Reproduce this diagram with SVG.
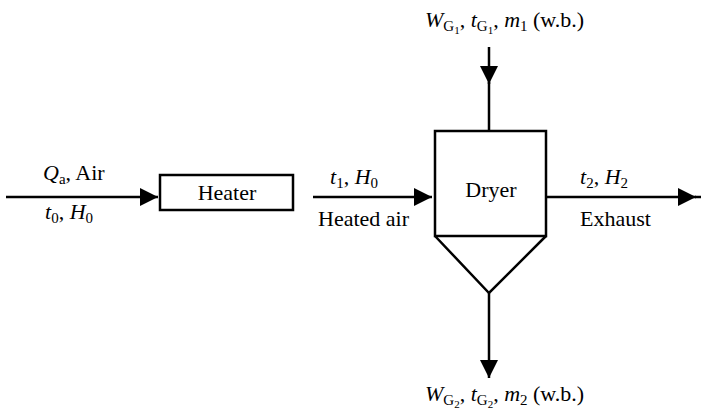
<svg xmlns="http://www.w3.org/2000/svg" width="701" height="413" viewBox="0 0 701 413">
<style>
text{font-family:"Liberation Serif","DejaVu Serif",serif;font-size:22px;fill:#000}
.i{font-style:italic}
.s{font-size:15px}
.ss{font-size:11px}
.box{fill:#fff;stroke:#000;stroke-width:2.5}
.ln{stroke:#000;stroke-width:2.5;fill:none}
</style>
<defs>
<marker id="ah" markerUnits="userSpaceOnUse" markerWidth="20" markerHeight="20" refX="18" refY="9" orient="auto">
<path d="M0,0 L18,9 L0,18 Z" fill="#000"/>
</marker>
</defs>
<g id="connectors">
<line class="ln" x1="6" y1="197" x2="158" y2="197" marker-end="url(#ah)"/>
<line class="ln" x1="313" y1="197" x2="432" y2="197" marker-end="url(#ah)"/>
<line class="ln" x1="546" y1="197" x2="696" y2="197" marker-end="url(#ah)"/>
<line class="ln" x1="695" y1="197" x2="701" y2="197"/>
<line class="ln" x1="489" y1="47" x2="489" y2="84" marker-end="url(#ah)"/>
<line class="ln" x1="489" y1="82" x2="489" y2="131"/>
<line class="ln" x1="489" y1="293" x2="489" y2="378" marker-end="url(#ah)"/>
</g>
<g id="heater">
<rect class="box" x="160" y="175" width="133" height="35"/>
<text x="227" y="200" text-anchor="middle">Heater</text>
</g>
<g id="dryer">
<rect class="box" x="435" y="131" width="111" height="105"/>
<path class="ln" d="M435,236 L489,293 L546,236"/>
<text x="491" y="197" text-anchor="middle">Dryer</text>
</g>
<g id="labels">
<text x="43" y="180"><tspan class="i">Q</tspan><tspan class="s" dy="4">a</tspan><tspan dy="-4">, Air</tspan></text>
<text x="45" y="219"><tspan class="i">t</tspan><tspan class="s" dy="4">0</tspan><tspan dy="-4">, </tspan><tspan class="i">H</tspan><tspan class="s" dy="4">0</tspan></text>
<text x="330" y="184"><tspan class="i">t</tspan><tspan class="s" dy="4">1</tspan><tspan dy="-4">, </tspan><tspan class="i">H</tspan><tspan class="s" dy="4">0</tspan></text>
<text x="318" y="226">Heated air</text>
<text x="580" y="184"><tspan class="i">t</tspan><tspan class="s" dy="4">2</tspan><tspan dy="-4">, </tspan><tspan class="i">H</tspan><tspan class="s" dy="4">2</tspan></text>
<text x="580" y="226">Exhaust</text>
<text x="425" y="27"><tspan class="i">W</tspan><tspan class="s" dy="4">G</tspan><tspan class="ss" dy="3">1</tspan><tspan dy="-7">, </tspan><tspan class="i">t</tspan><tspan class="s" dy="4">G</tspan><tspan class="ss" dy="3">1</tspan><tspan dy="-7">, </tspan><tspan class="i">m</tspan><tspan class="s" dy="4">1</tspan><tspan dy="-4"> (w.b.)</tspan></text>
<text x="425" y="401"><tspan class="i">W</tspan><tspan class="s" dy="4">G</tspan><tspan class="ss" dy="3">2</tspan><tspan dy="-7">, </tspan><tspan class="i">t</tspan><tspan class="s" dy="4">G</tspan><tspan class="ss" dy="3">2</tspan><tspan dy="-7">, </tspan><tspan class="i">m</tspan><tspan class="s" dy="4">2</tspan><tspan dy="-4"> (w.b.)</tspan></text>
</g>
</svg>
